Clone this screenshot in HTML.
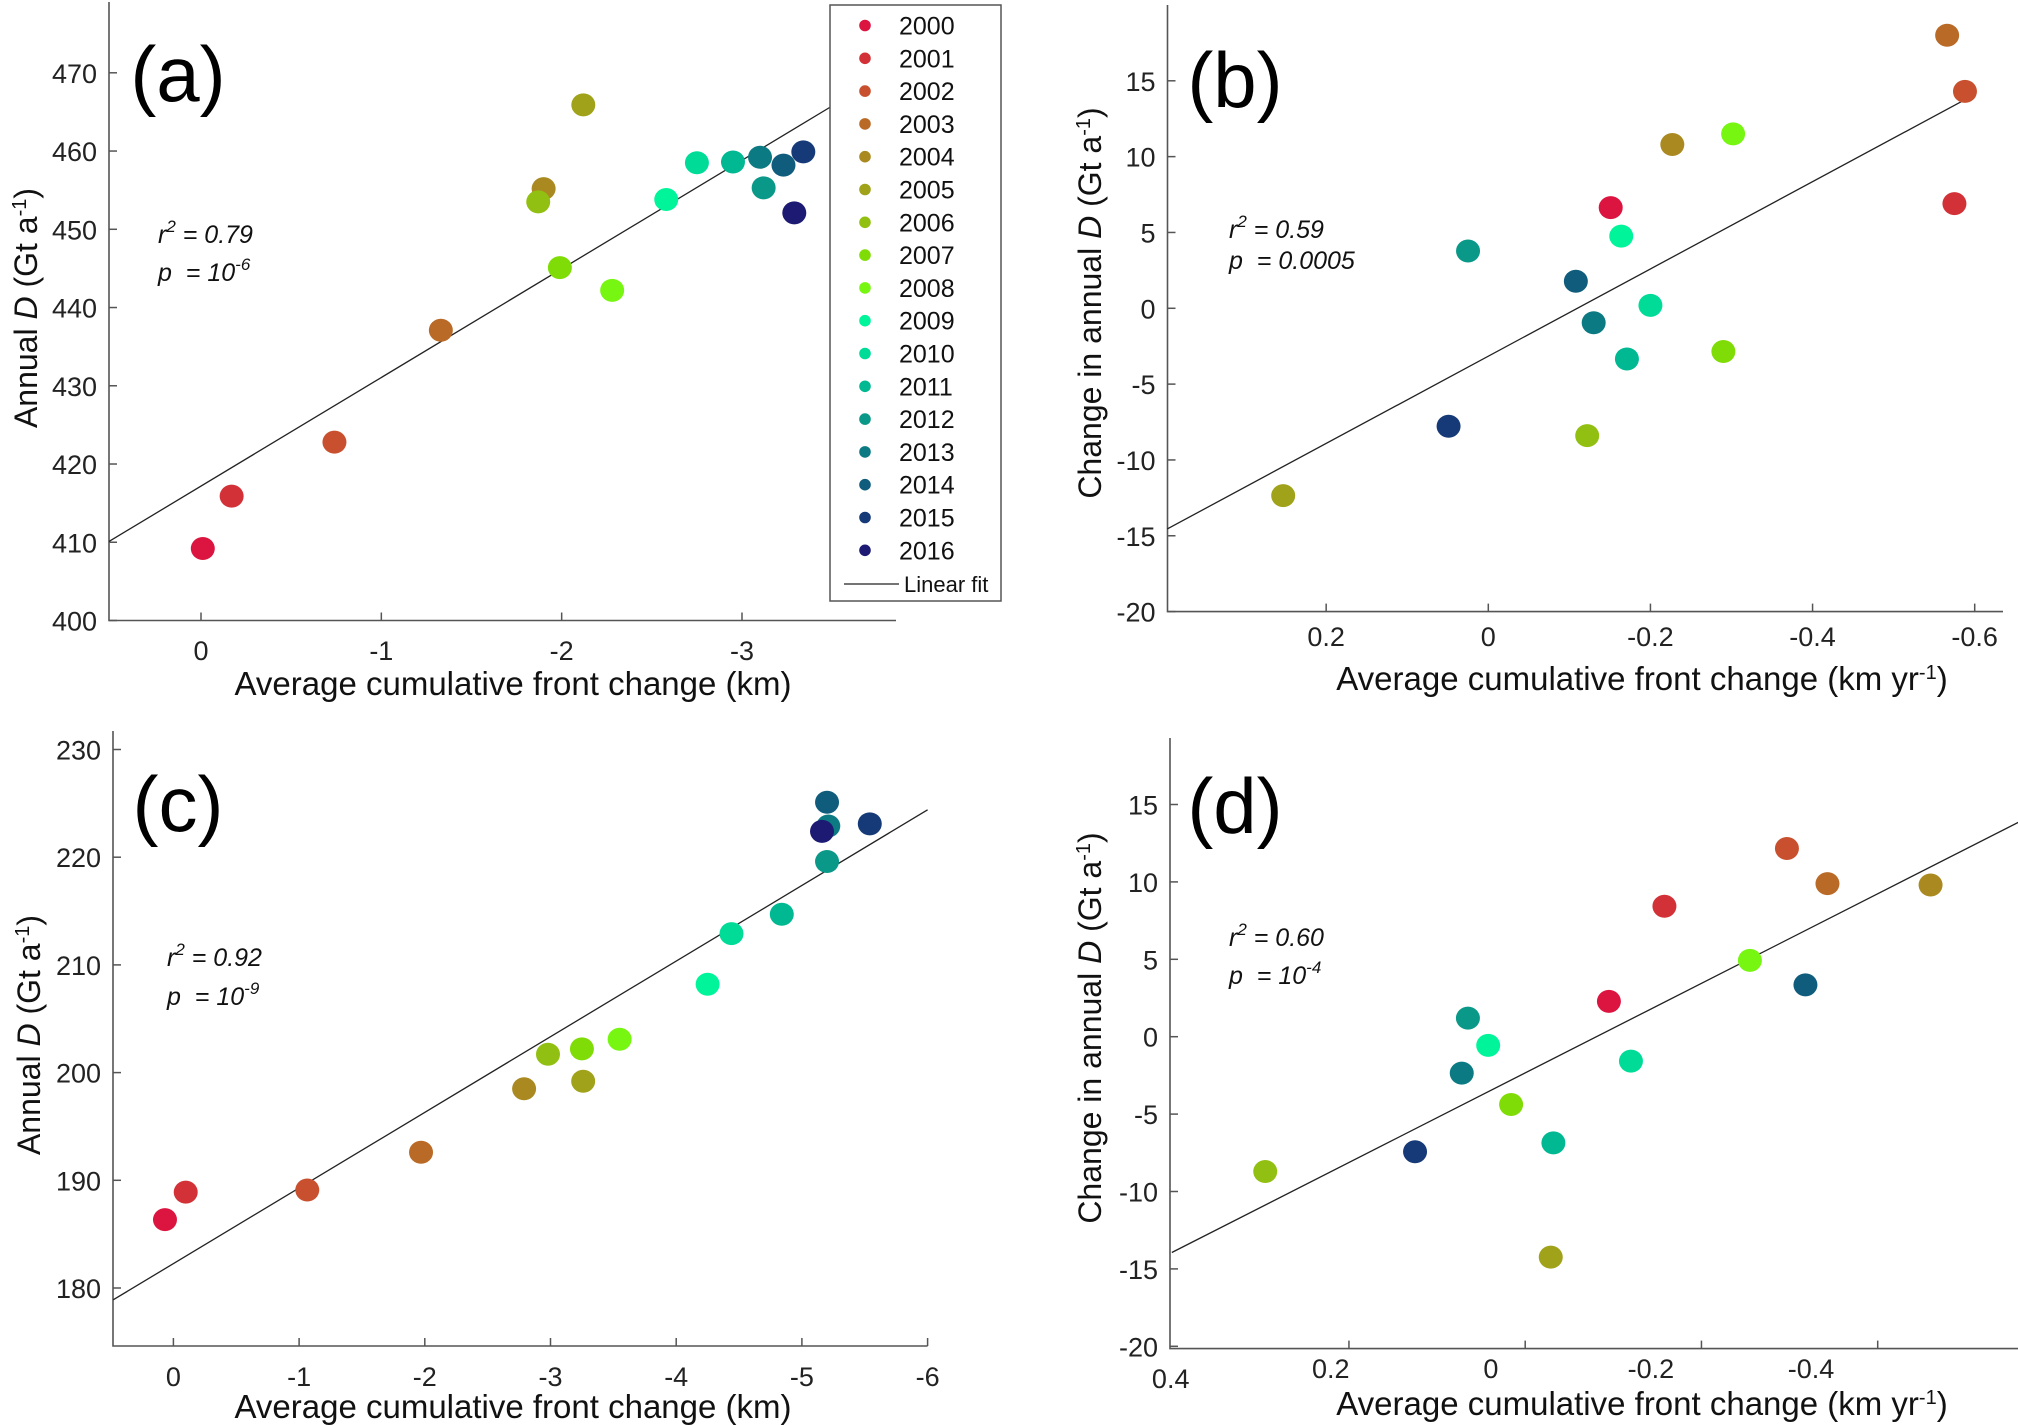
<!DOCTYPE html>
<html><head><meta charset="utf-8"><title>Front change vs discharge</title>
<style>
html,body{margin:0;padding:0;background:#fff;}
svg{display:block;font-family:"Liberation Sans",Arial,sans-serif;}
</style></head>
<body>
<svg id="fig" width="2018" height="1425" viewBox="0 0 2018 1425" xmlns="http://www.w3.org/2000/svg"></svg>
<script>
// ---- shared data ----
const years = ['2000','2001','2002','2003','2004','2005','2006','2007','2008','2009','2010','2011','2012','2013','2014','2015','2016'];
const yearColors = ['#dc1540','#d23237','#c8502e','#b96a27','#aa8a20','#a0a21a','#92c012','#80dc06','#76f610','#00f59a','#00dc98','#00b892','#0a9888','#0c7a82','#105c7c','#163a78','#1c1a72'];

// ---- panel a ----
const aX = [-0.01,-0.17,-0.74,-1.33,-1.90,-2.12,-1.87,-1.99,-2.28,-2.58,-2.75,-2.95,-3.12,-3.10,-3.23,-3.34,-3.29];
const aY = [409.2,415.9,422.8,437.1,455.2,465.9,453.5,445.1,442.2,453.8,458.5,458.6,455.3,459.2,458.2,459.9,452.1];
const aXTicks = [0,-1,-2,-3];
const aXTickLabels = ['0','-1','-2','-3'];
const aYTicks = [400,410,420,430,440,450,460,470];
const aFit = [[0.51,410.1],[-3.51,465.9]];
// ---- panel b ----
const bX = [-0.151,-0.575,-0.588,-0.566,-0.227,0.253,-0.122,-0.290,-0.302,-0.164,-0.200,-0.171,0.025,-0.130,-0.108,0.049];
const bY = [6.64,6.9,14.3,18.0,10.8,-12.35,-8.4,-2.85,11.5,4.76,0.19,-3.34,3.78,-0.95,1.78,-7.78];
const bXTicks = [0.2,0,-0.2,-0.4,-0.6];
const bXTickLabels = ['0.2','0','-0.2','-0.4','-0.6'];
const bYTicks = [-20,-15,-10,-5,0,5,10,15];
const bFit = [[0.396,-14.55],[-0.6,14.1]];
// ---- panel c ----
const cX = [0.067,-0.098,-1.065,-1.97,-2.79,-3.26,-2.98,-3.25,-3.55,-4.25,-4.44,-4.84,-5.20,-5.21,-5.20,-5.54,-5.16];
const cY = [186.35,188.9,189.1,192.6,198.5,199.2,201.7,202.2,203.1,208.2,212.9,214.7,219.6,222.9,225.1,223.1,222.4];
const cXTicks = [0,-1,-2,-3,-4,-5,-6];
const cXTickLabels = ['0','-1','-2','-3','-4','-5','-6'];
const cYTicks = [180,190,200,210,220,230];
const cFit = [[0.479,178.9],[-6,224.4]];
// ---- panel d ----
const dX = [-0.095,-0.158,-0.297,-0.343,-0.460,-0.029,0.295,0.016,-0.255,0.042,-0.120,-0.032,0.065,0.072,-0.318,0.125];
const dY = [2.28,8.43,12.16,9.89,9.8,-14.24,-8.71,-4.38,4.93,-0.56,-1.58,-6.86,1.2,-2.35,3.35,-7.43];
const dXTicks = [0.2,0,-0.2,-0.4];
const dXTickLabelVals = [0.4,0.2,0,-0.2,-0.4];
const dXTickLabels = ['0.4','0.2','0','-0.2','-0.4'];
const dYTicks = [-20,-15,-10,-5,0,5,10,15];
const dFit = [[0.401,-13.94],[-0.562,13.92]];

const NS = 'http://www.w3.org/2000/svg';
const svg = document.getElementById('fig');
function mk(tag, attrs, parent){
  const e = document.createElementNS(NS, tag);
  for (const k in attrs) e.setAttribute(k, attrs[k]);
  (parent||svg).appendChild(e);
  return e;
}
function lin(d0,d1,p0,p1){ return v => p0 + (v-d0)/(d1-d0)*(p1-p0); }

function panel(cfg){
  const g = mk('g', {});
  
  
  const sx = cfg.sx, sy = cfg.sy;
  const ax = mk('path', {d:`M${cfg.L},${cfg.T} L${cfg.L},${cfg.B} L${cfg.R},${cfg.B}`, fill:'none', stroke:'#555', 'stroke-width':1.6}, g);
  
  
  cfg.yTicks.forEach(v => {
    const y = sy(v);
    const t = mk('line', {x1:cfg.L, x2:cfg.L+8, y1:y, y2:y, stroke:'#555', 'stroke-width':1.5}, g);
    
    
    const tx = mk('text', {x:cfg.L-12, y:y+10, 'text-anchor':'end', 'font-size':27, fill:'#222'}, g);
    tx.textContent = String(v);
    
    
  });
  cfg.xTicks.forEach(v => {
    const x = sx(v);
    const t = mk('line', {x1:x, x2:x, y1:cfg.B, y2:cfg.B-8, stroke:'#555', 'stroke-width':1.5}, g);
    
    
  });
  cfg.xLabelVals.forEach((v,i) => {
    const x = cfg.lx(v);
    const yy = cfg.xLabelY + ((cfg.lowFirst && i===0) ? 10 : 0);
    const tx = mk('text', {x:x, y:yy, 'text-anchor':'middle', 'font-size':27, fill:'#222'}, g);
    tx.textContent = cfg.xLabels[i];
    
    
  });
  const f = mk('line', {x1:sx(cfg.fit[0][0]), y1:sy(cfg.fit[0][1]), x2:sx(cfg.fit[1][0]), y2:sy(cfg.fit[1][1]), stroke:'#222', 'stroke-width':1.3}, g);
  
  
  cfg.xs.forEach((xv,i) => {
    const c = mk('ellipse', {cx:sx(xv), cy:sy(cfg.ys[i]), rx:12, ry:11.5, fill:yearColors[i]}, g);
    
    
  });
  const pl = mk('text', {x:cfg.labX, y:cfg.labY+27, 'text-anchor':'middle', 'font-size':78, fill:'#000'}, g);
  pl.textContent = '(' + cfg.id + ')';
  
  
  const s1 = mk('text', {x:cfg.stX, y:cfg.stY1+9, 'font-size':25, 'font-style':'italic', fill:'#111'}, g);
  s1.innerHTML = 'r<tspan dy="-11" font-size="17">2</tspan><tspan dy="11"> = ' + cfg.r2 + '</tspan>';
  
  
  const s2 = mk('text', {x:cfg.stX, y:cfg.stY2+9, 'font-size':25, 'font-style':'italic', fill:'#111'}, g);
  s2.innerHTML = cfg.p;
  
  
  const xt = mk('text', {x:cfg.xtX, y:cfg.xtY+12, 'text-anchor':'middle', 'font-size':33, fill:'#111'}, g);
  xt.innerHTML = cfg.xTitle;
  
  
  const yt = mk('text', {x:0, y:0, 'text-anchor':'middle', 'font-size':32, fill:'#111', transform:`translate(${cfg.ytX+11},${cfg.ytY}) rotate(-90)`}, g);
  yt.innerHTML = cfg.yTitle;
  
  
}

const titleKm = 'Average cumulative front change (km)';
const titleKmYr = 'Average cumulative front change (km yr<tspan dy="-11" font-size="20">-1</tspan><tspan dy="11">)</tspan>';
const titleAnnual = 'Annual <tspan font-style="italic">D</tspan> (Gt a<tspan dy="-11" font-size="20">-1</tspan><tspan dy="11">)</tspan>';
const titleChange = 'Change in annual <tspan font-style="italic">D</tspan> (Gt a<tspan dy="-11" font-size="20">-1</tspan><tspan dy="11">)</tspan>';

{
  const sx = lin(0,-3,201,742), sy = lin(400,470,620.5,72.8);
  panel({id:'a', sx, sy, lx:sx, L:109, R:896, T:2, B:620.5, xTicks:aXTicks, xLabelVals:aXTicks, xLabels:aXTickLabels, xLabelY:660,
    yTicks:aYTicks, xs:aX, ys:aY, fit:aFit, labX:178, labY:74, stX:158, stY1:234, stY2:272, r2:'0.79',
    p:'p&#160; = 10<tspan dy="-11" font-size="17">-6</tspan>', xtX:513, xtY:683, xTitle:titleKm, ytX:26, ytY:308, yTitle:titleAnnual});
}
{
  const sx = lin(0,-0.6,1488.3,1974.7), sy = lin(-20,15,611.6,80.8);
  panel({id:'b', sx, sy, lx:sx, L:1167.5, R:2003, T:5, B:611.6, xTicks:bXTicks, xLabelVals:bXTicks, xLabels:bXTickLabels, xLabelY:646,
    yTicks:bYTicks, xs:bX, ys:bY, fit:bFit, labX:1235, labY:80, stX:1229, stY1:229, stY2:260, r2:'0.59',
    p:'p&#160; = 0.0005', xtX:1642, xtY:678, xTitle:titleKmYr, ytX:1090, ytY:303, yTitle:titleChange});
}
{
  const sx = lin(0,-6,173.4,927.6), sy = lin(180,230,1288,749.5);
  panel({id:'c', sx, sy, lx:sx, L:113, R:927.6, T:731, B:1346, xTicks:cXTicks, xLabelVals:cXTicks, xLabels:cXTickLabels, xLabelY:1386,
    yTicks:cYTicks, xs:cX, ys:cY, fit:cFit, labX:178, labY:804, stX:167, stY1:957, stY2:996, r2:'0.92',
    p:'p&#160; = 10<tspan dy="-11" font-size="17">-9</tspan>', xtX:513, xtY:1406, xTitle:titleKm, ytX:29, ytY:1035, yTitle:titleAnnual});
}
{
  const sx = lin(0,-0.4,1525.2,1877.7), sy = lin(-20,15,1346.3,804.5);
  const lx = lin(0.4,-0.4,1170.7,1811);
  panel({id:'d', sx, sy, lx, L:1170, R:2018, T:738, B:1348.6, xTicks:dXTicks, xLabelVals:dXTickLabelVals, xLabels:dXTickLabels, xLabelY:1378, lowFirst:true,
    yTicks:dYTicks, xs:dX, ys:dY, fit:dFit, labX:1235, labY:806, stX:1229, stY1:937, stY2:975, r2:'0.60',
    p:'p&#160; = 10<tspan dy="-11" font-size="17">-4</tspan>', xtX:1642, xtY:1403, xTitle:titleKmYr, ytX:1090, ytY:1028, yTitle:titleChange});
}

{
  const lg = mk('g', {});
  
  
  const box = mk('rect', {x:830, y:5, width:171, height:596, fill:'#fff', stroke:'#555', 'stroke-width':1.5}, lg);
  
  
  years.forEach((yr,i) => {
    const y = 25.5 + i*32.8;
    const m = mk('circle', {cx:865, cy:y, r:5.8, fill:yearColors[i]}, lg);
    
    
    const t = mk('text', {x:899, y:y+9, 'font-size':25, fill:'#111'}, lg);
    t.textContent = yr;
    
    
  });
  const fl = mk('line', {x1:844, x2:899, y1:584, y2:584, stroke:'#222', 'stroke-width':1.3}, lg);
  
  
  const ft = mk('text', {x:904, y:592, 'font-size':22, fill:'#111'}, lg);
  ft.textContent = 'Linear fit';
  
  
}
</script>
</body></html>
